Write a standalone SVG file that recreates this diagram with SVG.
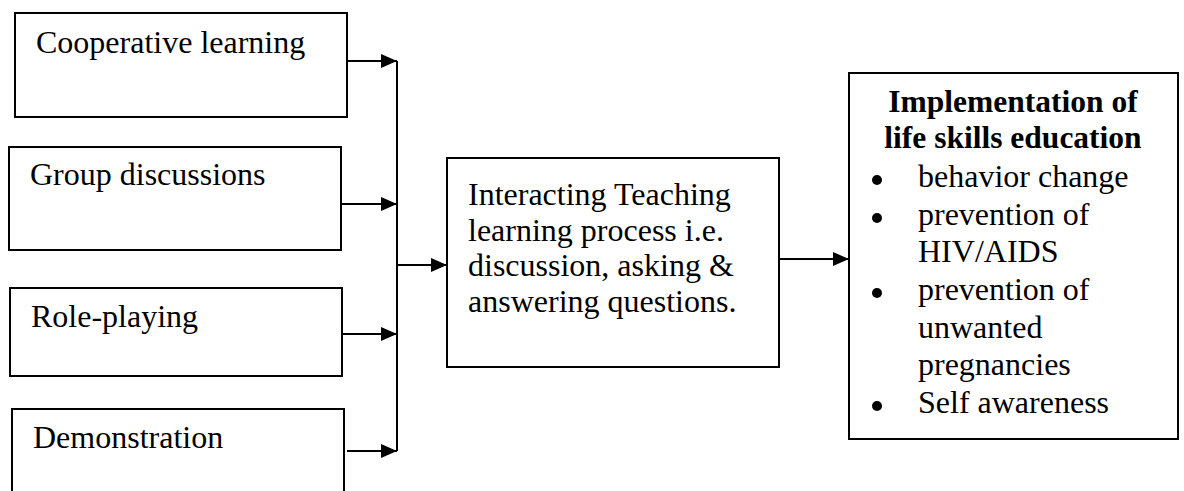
<svg xmlns="http://www.w3.org/2000/svg" width="1184" height="491" viewBox="0 0 1184 491">
<style>
.box{fill:#fff;stroke:#000;stroke-width:2}
.t{font-family:"Liberation Serif","Times New Roman",serif;font-size:32px;fill:#000}
.b{font-weight:bold;text-anchor:middle;font-size:31.5px}
.ln{stroke:#000;stroke-width:2;fill:none}
</style>
<defs>
<marker id="ah" markerWidth="16" markerHeight="14" refX="16" refY="7" orient="auto" markerUnits="userSpaceOnUse">
<path d="M0,0 L16,7 L0,14 Z" fill="#000"/>
</marker>
</defs>
<rect width="1184" height="491" fill="#fff"/>
<g id="n1"><rect class="box" x="15" y="13" width="332" height="104"/><text class="t" x="36" y="53">Cooperative learning</text></g>
<g id="n2"><rect class="box" x="9" y="147" width="332" height="103"/><text class="t" x="30" y="185">Group discussions</text></g>
<g id="n3"><rect class="box" x="10" y="288" width="332" height="88"/><text class="t" x="31" y="327">Role-playing</text></g>
<g id="n4"><rect class="box" x="12" y="409" width="332" height="90"/><text class="t" x="33" y="448">Demonstration</text></g>
<g id="center"><rect class="box" x="447" y="158" width="332" height="209"/>
<text class="t" x="468" y="205">Interacting Teaching</text>
<text class="t" x="468" y="241">learning process i.e.</text>
<text class="t" x="468" y="276">discussion, asking &amp;</text>
<text class="t" x="468" y="312">answering questions.</text>
</g>
<g id="outcome"><rect class="box" x="849" y="73" width="329" height="366"/>
<text class="t b" x="1013" y="112">Implementation of</text>
<text class="t b" x="1013" y="148">life skills education</text>
<circle cx="877" cy="180" r="5"/><text class="t" x="918" y="187">behavior change</text>
<circle cx="877" cy="218" r="5"/><text class="t" x="918" y="225">prevention of</text>
<text class="t" x="918" y="262">HIV/AIDS</text>
<circle cx="877" cy="293" r="5"/><text class="t" x="918" y="300">prevention of</text>
<text class="t" x="918" y="338">unwanted</text>
<text class="t" x="918" y="375">pregnancies</text>
<circle cx="877" cy="406" r="5"/><text class="t" x="918" y="413">Self awareness</text>
</g>
<g id="connectors">
<line class="ln" x1="397" y1="61" x2="397" y2="451"/>
<line class="ln" x1="347" y1="61" x2="397" y2="61" marker-end="url(#ah)"/>
<line class="ln" x1="341" y1="204" x2="397" y2="204" marker-end="url(#ah)"/>
<line class="ln" x1="342" y1="334" x2="397" y2="334" marker-end="url(#ah)"/>
<line class="ln" x1="347" y1="451" x2="397" y2="451" marker-end="url(#ah)"/>
<line class="ln" x1="397" y1="265" x2="447" y2="265" marker-end="url(#ah)"/>
<line class="ln" x1="779" y1="259" x2="849" y2="259" marker-end="url(#ah)"/>
</g>
</svg>
